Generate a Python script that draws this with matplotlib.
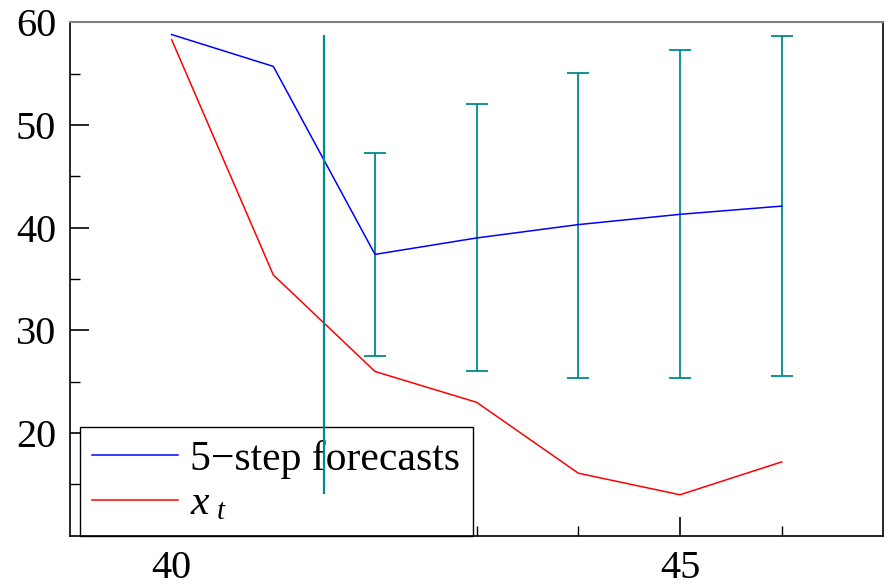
import numpy as np
import matplotlib
matplotlib.use('Agg')
import matplotlib.pyplot as plt

plt.rcParams['font.family'] = ['Liberation Serif', 'DejaVu Serif']
plt.rcParams['mathtext.fontset'] = 'custom'
plt.rcParams['mathtext.rm'] = 'Liberation Serif'
plt.rcParams['mathtext.it'] = 'Liberation Serif:italic'

# data
steps = [40, 41, 42, 43, 44, 45, 46]
forecast = [58.8, 55.7, 37.4, 39.0, 40.3, 41.3, 42.1]
x_t = [58.3, 35.4, 26.0, 23.0, 16.1, 14.0, 17.2]

ci_x = [42, 43, 44, 45, 46]
ci_upper = [47.3, 52.0, 55.1, 57.3, 58.7]
ci_lower = [27.5, 26.0, 25.4, 25.4, 25.6]

origin_x = 41.5
origin_range = (14.1, 58.8)


def draw():
    fig = plt.figure(figsize=(8.86, 5.85), dpi=100)
    ax = fig.add_axes([0.079, 0.084, 0.918, 0.878])

    teal = '#008b8b'
    ax.vlines(origin_x, origin_range[0], origin_range[1], colors=teal, lw=1.6, zorder=6)

    mid = [(u + l) / 2 for u, l in zip(ci_upper, ci_lower)]
    err = [[m - l for m, l in zip(mid, ci_lower)], [u - m for u, m in zip(ci_upper, mid)]]
    ax.errorbar(ci_x, mid, yerr=err, fmt='none', ecolor=teal, elinewidth=1.3,
                capsize=8, capthick=1.3)

    ax.plot(steps, forecast, c='blue', lw=1.1, label='5\u2212step forecasts')
    ax.plot(steps, x_t, c='red', lw=1.1, label='$x_{\\ t}$')

    ax.set_xlim(39, 47)
    ax.set_ylim(10, 60)
    ax.set_xticks([40, 45])
    ax.set_xticks([41, 42, 43, 44, 46], minor=True)
    ax.set_yticks([20, 30, 40, 50, 60])
    ax.set_yticks([15, 25, 35, 45, 55], minor=True)
    ax.tick_params(which='major', direction='in', length=14, width=1.2,
                   labelsize=29, pad=10, top=False, right=False)
    ax.tick_params(which='minor', direction='in', length=7, width=1.0,
                   top=False, right=False)

    for s in ['left', 'bottom', 'right']:
        ax.spines[s].set_linewidth(1.2)
        ax.spines[s].set_color('black')
    ax.spines['top'].set_color('#808080')
    ax.spines['top'].set_linewidth(1.5)

    leg = ax.legend(loc='lower left', bbox_to_anchor=(0.012, 0.0), borderaxespad=0,
                    fontsize=30, fancybox=False, framealpha=1, edgecolor='black',
                    handlelength=2.05, borderpad=0.3, labelspacing=0.15,
                    handletextpad=0.3)
    leg.get_frame().set_linewidth(1.0)
    leg.set_zorder(1.5)

    plt.savefig('out.png', dpi=100)


if __name__ == '__main__':
    draw()
